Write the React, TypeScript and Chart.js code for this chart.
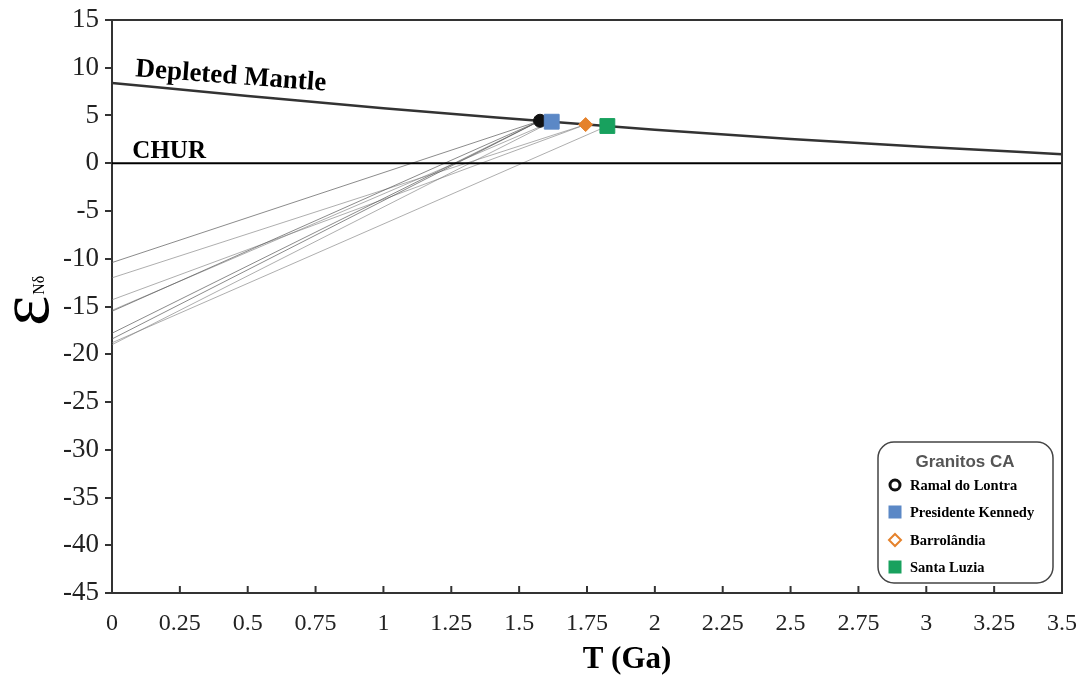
import React, { useEffect, useRef } from 'react';
import { Chart, registerables } from 'chart.js';

Chart.register(...registerables);

// Axis ticks
const xTickValues = [0, 0.25, 0.5, 0.75, 1, 1.25, 1.5, 1.75, 2, 2.25, 2.5, 2.75, 3, 3.25, 3.5];
const xTickLabels = ['0', '0.25', '0.5', '0.75', '1', '1.25', '1.5', '1.75', '2', '2.25', '2.5', '2.75', '3', '3.25', '3.5'];
const yTickValues = [15, 10, 5, 0, -5, -10, -15, -20, -25, -30, -35, -40, -45];

// Depleted mantle curve
const dmAge = [0, 0.5, 1, 1.5, 2, 2.5, 3, 3.5];
const dmEps = [8.4, 7.05, 5.75, 4.6, 3.5, 2.55, 1.7, 0.95];

// CHUR reference
const churAge = [0, 3.5];
const churEps = [0, 0];

// Samples (TDM model ages)
const sampleNames = ['Ramal do Lontra', 'Presidente Kennedy', 'Barrolândia', 'Santa Luzia'];
const sampleTdm = [1.577, 1.62, 1.745, 1.825];
const sampleEpsTdm = [4.45, 4.35, 4.05, 3.9];
const sampleColors = ['#111111', '#5b88c6', '#e5822c', '#18a15e'];

// Present-day epsilon Nd (T = 0) of evolution lines, per sample
const ramalEps0 = [-10.4, -15.5, -17.8, -18.4];
const kennedyEps0 = [-15.4, -19.0];
const barroEps0 = [-12.0, -14.3];
const luziaEps0 = [-18.8];

const legendTitle = 'Granitos CA';
const xTitle = 'T (Ga)';

function drawMarker(ctx: CanvasRenderingContext2D, idx: number, x: number, y: number) {
  ctx.save();
  if (idx === 0) {
    ctx.beginPath();
    ctx.arc(x, y, 5, 0, Math.PI * 2);
    ctx.lineWidth = 3;
    ctx.strokeStyle = '#111';
    ctx.stroke();
  } else if (idx === 1) {
    ctx.fillStyle = sampleColors[1];
    ctx.fillRect(x - 6.5, y - 6.5, 13, 13);
  } else if (idx === 2) {
    ctx.beginPath();
    ctx.moveTo(x, y - 6);
    ctx.lineTo(x + 6, y);
    ctx.lineTo(x, y + 6);
    ctx.lineTo(x - 6, y);
    ctx.closePath();
    ctx.lineWidth = 2;
    ctx.strokeStyle = sampleColors[2];
    ctx.stroke();
  } else {
    ctx.fillStyle = sampleColors[3];
    ctx.fillRect(x - 6.5, y - 6.5, 13, 13);
  }
  ctx.restore();
}

const overlayPlugin = {
  id: 'overlay',
  afterDraw(chart: any) {
    const { ctx, chartArea, scales } = chart;
    const xs = scales.x;
    const ys = scales.y;
    ctx.save();
    // frame top & right
    ctx.strokeStyle = '#333';
    ctx.lineWidth = 2;
    ctx.beginPath();
    ctx.moveTo(chartArea.left, chartArea.top);
    ctx.lineTo(chartArea.right, chartArea.top);
    ctx.lineTo(chartArea.right, chartArea.bottom);
    ctx.stroke();
    // x ticks pointing inward
    ctx.lineWidth = 2;
    xTickValues.forEach((v) => {
      const px = xs.getPixelForValue(v);
      ctx.beginPath();
      ctx.moveTo(px, chartArea.bottom);
      ctx.lineTo(px, chartArea.bottom - 7);
      ctx.stroke();
    });

    // Depleted Mantle label, rotated along curve
    const x0 = xs.getPixelForValue(dmAge[0]);
    const y0 = ys.getPixelForValue(dmEps[0]);
    const x1 = xs.getPixelForValue(dmAge[dmAge.length - 1]);
    const y1 = ys.getPixelForValue(dmEps[dmEps.length - 1]);
    const ang = Math.atan2(y1 - y0, x1 - x0);
    ctx.save();
    ctx.translate(xs.getPixelForValue(0.085), ys.getPixelForValue(9.1));
    ctx.rotate(ang);
    ctx.fillStyle = '#000';
    ctx.font = 'bold 27px "Liberation Serif"';
    ctx.textBaseline = 'alphabetic';
    ctx.fillText('Depleted Mantle', 0, 0);
    ctx.restore();

    // CHUR label
    ctx.fillStyle = '#000';
    ctx.font = 'bold 25px "Liberation Serif"';
    ctx.textBaseline = 'alphabetic';
    ctx.fillText('CHUR', xs.getPixelForValue(0.075), ys.getPixelForValue(0.55));

    // Y title epsilon with subscript
    ctx.save();
    ctx.translate(48, 326);
    ctx.rotate(-Math.PI / 2);
    ctx.font = '72px "Liberation Serif"';
    ctx.fillStyle = '#000';
    ctx.fillText('ε', 0, 0);
    const w = ctx.measureText('ε').width;
    ctx.font = '16px "Liberation Serif"';
    ctx.fillText('Nδ', w + 1, -4);
    ctx.restore();

    // X title
    ctx.font = 'bold 31px "Liberation Serif"';
    ctx.textAlign = 'center';
    ctx.fillText(xTitle, 627, 668);
    ctx.textAlign = 'left';

    // Legend
    const lx = 878, ly = 442, lw = 175, lh = 141, r = 16;
    ctx.beginPath();
    ctx.moveTo(lx + r, ly);
    ctx.arcTo(lx + lw, ly, lx + lw, ly + lh, r);
    ctx.arcTo(lx + lw, ly + lh, lx, ly + lh, r);
    ctx.arcTo(lx, ly + lh, lx, ly, r);
    ctx.arcTo(lx, ly, lx + lw, ly, r);
    ctx.closePath();
    ctx.fillStyle = '#fff';
    ctx.fill();
    ctx.strokeStyle = '#444';
    ctx.lineWidth = 1.5;
    ctx.stroke();
    ctx.fillStyle = '#555';
    ctx.font = 'bold 17px "Liberation Sans"';
    ctx.textAlign = 'center';
    ctx.fillText(legendTitle, 965, 467);
    ctx.textAlign = 'left';
    const baselines = [490, 517, 545, 572];
    sampleNames.forEach((name, i) => {
      drawMarker(ctx, i, 895, baselines[i] - 5);
      ctx.fillStyle = '#000';
      ctx.font = 'bold 14.5px "Liberation Serif"';
      ctx.fillText(name, 910, baselines[i]);
    });
    ctx.restore();
  },
};

export default function App() {
  const ref = useRef<HTMLCanvasElement | null>(null);
  useEffect(() => {
    if (!ref.current) return;
    const lineSets: any[] = [];
    const groups = [ramalEps0, kennedyEps0, barroEps0, luziaEps0];
    groups.forEach((arr, gi) => {
      arr.forEach((e0) => {
        lineSets.push({
          data: [
            { x: 0, y: e0 },
            { x: sampleTdm[gi], y: sampleEpsTdm[gi] },
          ],
          showLine: true,
          borderColor: gi === 0 ? 'rgba(90,90,90,0.7)' : 'rgba(120,120,120,0.6)',
          borderWidth: 1,
          pointRadius: 0,
          order: 10,
        });
      });
    });
    const markerSets = sampleNames.map((name, i) => ({
      label: name,
      data: [{ x: sampleTdm[i], y: sampleEpsTdm[i] }],
      showLine: false,
      pointStyle: i === 0 ? 'circle' : i === 2 ? 'rectRot' : 'rect',
      pointRadius: i === 0 ? 6.5 : i === 2 ? 7 : 10.5,
      backgroundColor: sampleColors[i],
      borderColor: sampleColors[i],
      borderWidth: 1,
      order: 4 - i,
    }));
    const chart = new Chart(ref.current, {
      type: 'scatter',
      data: {
        datasets: [
          ...markerSets,
          {
            label: 'Depleted Mantle',
            data: dmAge.map((a, i) => ({ x: a, y: dmEps[i] })),
            showLine: true,
            borderColor: '#333',
            borderWidth: 2.5,
            pointRadius: 0,
            cubicInterpolationMode: 'monotone',
            order: 6,
          },
          {
            label: 'CHUR',
            data: churAge.map((a, i) => ({ x: a, y: churEps[i] })),
            showLine: true,
            borderColor: '#000',
            borderWidth: 2,
            pointRadius: 0,
            order: 7,
          },
          ...lineSets,
        ],
      },
      options: {
        animation: false,
        responsive: false,
        layout: { padding: { left: 52, right: 27, top: 20, bottom: 32 } },
        plugins: { legend: { display: false }, tooltip: { enabled: false } },
        scales: {
          x: {
            type: 'linear',
            min: 0,
            max: 3.5,
            afterFit: (s: any) => { s.height = 50; s.paddingLeft = 0; s.paddingRight = 0; },
            afterBuildTicks: (s: any) => { s.ticks = xTickValues.map((v) => ({ value: v })); },
            ticks: {
              padding: 16,
              color: '#222',
              font: { family: '"Liberation Serif"', size: 24 },
              callback: (v: any) => {
                const i = xTickValues.indexOf(Number(v));
                return i >= 0 ? xTickLabels[i] : '';
              },
            },
            grid: { display: false, drawTicks: false },
            border: { display: true, color: '#333', width: 2 },
          },
          y: {
            type: 'linear',
            min: -45,
            max: 15,
            afterFit: (s: any) => { s.width = 60; s.paddingTop = 0; s.paddingBottom = 0; },
            afterBuildTicks: (s: any) => { s.ticks = yTickValues.map((v) => ({ value: v })); },
            ticks: {
              padding: 6,
              color: '#222',
              font: { family: '"Liberation Serif"', size: 27 },
            },
            grid: { drawOnChartArea: false, drawTicks: true, tickLength: 7, color: '#333', lineWidth: 2 },
            border: { display: true, color: '#333', width: 2 },
          },
        },
      },
      plugins: [overlayPlugin],
    } as any);
    return () => chart.destroy();
  }, []);
  return (
    <canvas
      ref={ref}
      width={1089}
      height={675}
      style={{ position: 'absolute', left: 0, top: 0, width: 1089, height: 675, background: '#fff' }}
    />
  );
}
